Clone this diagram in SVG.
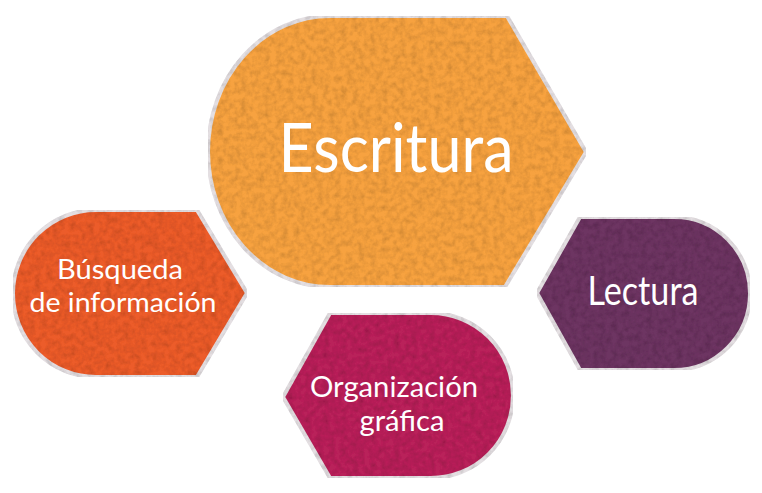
<svg xmlns="http://www.w3.org/2000/svg" width="762" height="493" viewBox="0 0 762 493">
<style>
.shape{stroke:#e4dfe2;stroke-width:4;stroke-linejoin:round}
.lbl{font-family:Lato,"Open Sans",sans-serif;fill:#ffffff;text-anchor:middle}
</style>
<defs>
<filter id="felt" x="0" y="0" width="1" height="1">
<feTurbulence type="fractalNoise" baseFrequency="0.17" numOctaves="3" seed="4" result="n"/>
<feColorMatrix in="n" type="matrix" values="0 0 0 0 0  0 0 0 0 0  0 0 0 0 0  0.55 0 0 0 -0.2" result="spots"/>
<feComposite in="spots" in2="SourceGraphic" operator="in" result="tex"/>
<feMerge><feMergeNode in="SourceGraphic"/><feMergeNode in="tex"/></feMerge>
</filter>
</defs>
<rect width="762" height="493" fill="#ffffff"/>
<g id="escritura">
<path class="shape" filter="url(#felt)" fill="#f7a23f" d="M330,16 L507,16 L586,152 L505,287 L330,287 A122,135.5 0 0 1 330,16 Z"/>
<text class="lbl" x="396" y="172" font-size="68" textLength="235" lengthAdjust="spacingAndGlyphs">Escritura</text>
</g>
<g id="busqueda">
<path class="shape" filter="url(#felt)" fill="#ec5b2c" d="M96,210 L197,210 L247,293 L197,377 L96,377 A83,83.5 0 0 1 96,210 Z"/>
<text class="lbl" x="120" y="279" font-size="27" textLength="126" lengthAdjust="spacingAndGlyphs">Búsqueda</text>
<text class="lbl" x="123" y="312" font-size="27" textLength="187" lengthAdjust="spacingAndGlyphs">de información</text>
</g>
<g id="lectura">
<path class="shape" filter="url(#felt)" fill="#6d3562" d="M580,217 L674,217 A76,76.5 0 0 1 674,370 L580,370 L537,293 Z"/>
<text class="lbl" x="643" y="305" font-size="40" textLength="111" lengthAdjust="spacingAndGlyphs">Lectura</text>
</g>
<g id="organizacion">
<path class="shape" filter="url(#felt)" fill="#b9245a" d="M330,313 L431,313 A82,82.5 0 0 1 431,478 L330,478 L283,397 Z"/>
<text class="lbl" x="394" y="397" font-size="29" textLength="168" lengthAdjust="spacingAndGlyphs">Organización</text>
<text class="lbl" x="402" y="431" font-size="29" textLength="85" lengthAdjust="spacingAndGlyphs">gráfica</text>
</g>
<g id="connectors"/>
</svg>
